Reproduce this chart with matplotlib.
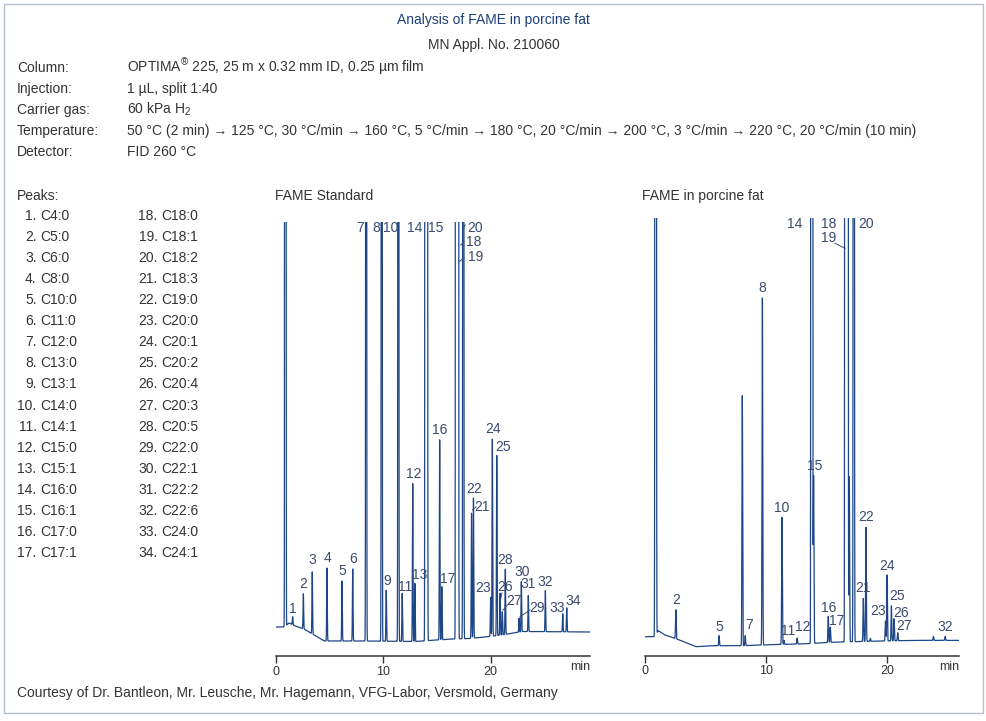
import numpy as np
import matplotlib
matplotlib.use("Agg")
import matplotlib.pyplot as plt
from matplotlib.patches import Rectangle

plt.rcParams['font.family'] = ['Liberation Sans', 'DejaVu Sans']

# ---------------- data ----------------
peak_names = ["C4:0", "C5:0", "C6:0", "C8:0", "C10:0", "C11:0", "C12:0", "C13:0",
              "C13:1", "C14:0", "C14:1", "C15:0", "C15:1", "C16:0", "C16:1", "C17:0",
              "C17:1", "C18:0", "C18:1", "C18:2", "C18:3", "C19:0", "C20:0", "C20:1",
              "C20:2", "C20:4", "C20:3", "C20:5", "C22:0", "C22:1", "C22:2", "C22:6",
              "C24:0", "C24:1"]

# FAME standard: retention time (min), peak height above baseline, peak number (0 = solvent)
std_ids = [0, 1, 2, 3, 4, 5, 6, 7, 8, 9, 10, 11, 12, 13, 14, 15, 16, 17,
           18, 19, 20, 21, 22, 23, 24, 25, 26, 27, 28, 29, 30, 31, 32, 33, 34]
std_times = [0.87, 1.55, 2.55, 3.38, 4.75, 6.15, 7.15, 8.40, 9.85, 10.27, 11.40, 11.76,
             12.74, 12.94, 13.95, 14.08, 15.25, 15.45, 16.80, 16.95, 17.45, 18.22, 18.40,
             20.00, 20.16, 20.57, 20.88, 21.09, 21.37, 22.65, 22.86, 23.51, 25.10, 26.72, 27.09]
std_heights = [20000, 8, 35, 62, 73, 60, 72, 3000, 3000, 51, 3000, 48,
               158, 58, 100000, 3000, 200, 53, 100000, 30000, 5000, 125, 140,
               39, 197, 180, 42, 23, 65, 14, 50, 36, 41, 18, 24]
std_base_t = [0, 0.8, 1.2, 1.8, 2.6, 4.5, 8, 13, 15, 16.5, 18, 19.5, 21, 23, 29.3]
std_base_s = [29, 29, 33, 30, 27, 15, 15, 14.5, 16, 17, 17.5, 19, 21, 24.5, 24]

# FAME in porcine fat (None = unlabelled peak)
fat_ids = [0, 2, 5, None, 7, 8, 10, 11, 12, 14, 15, 16, 17, 18, 19, None, 20,
           21, 22, None, 23, 24, 25, 26, 27, None, 32]
fat_times = [0.88, 2.55, 6.12, 8.04, 8.28, 9.70, 11.32, 11.49, 12.57, 13.78, 13.93,
             15.14, 15.31, 16.58, 16.72, 16.88, 17.25, 18.04, 18.26, 18.62, 19.87,
             20.00, 20.36, 20.58, 20.88, 23.83, 24.80]
fat_heights = [20000, 29, 10, 250, 10, 347, 127, 4, 6, 100000, 168, 26, 15, 100000,
               30000, 165, 5000, 43, 114, 3, 20, 66, 35, 22, 8, 4, 4]
fat_base_t = [0, 0.8, 1.1, 1.6, 2.3, 3.0, 4.2, 5.5, 8.0, 10.5, 13.5, 15.5, 19, 22, 26]
fat_base_s = [19, 19, 25, 21, 18, 15, 9, 10, 10, 11, 12, 13.5, 14.5, 15.3, 15.3]

# peak number labels: (id, time, signal) in data units of each panel
std_labels = [(1, 1.61, 47), (2, 2.54, 72), (3, 3.38, 96), (4, 4.78, 97.7), (5, 6.15, 85),
              (6, 7.15, 96.7), (7, 7.83, 427.7), (8, 9.32, 427.7), (9, 10.37, 75.3),
              (10, 10.65, 427.7), (11, 12.02, 69.3), (12, 12.80, 182), (13, 13.42, 80.7),
              (14, 12.89, 427.7), (15, 14.88, 427.7), (16, 15.28, 226), (17, 15.96, 76.7),
              (18, 18.45, 413.7), (19, 18.61, 399.3), (20, 18.52, 428), (21, 19.20, 148.7),
              (22, 18.45, 166.7), (23, 19.32, 67.7), (24, 20.20, 226.7), (25, 21.13, 209.3),
              (26, 21.30, 69.3), (27, 22.21, 55), (28, 21.37, 96), (29, 24.30, 48.3),
              (30, 22.90, 84.3), (31, 23.51, 72), (32, 25.10, 74.3), (33, 26.22, 47.7),
              (34, 27.65, 55)]
std_leaders = [((17.21, 411), (17.52, 414.3)), ((17.08, 394.3), (17.52, 398.3)),
               ((17.46, 427.7), (17.64, 431)), ((18.29, 146), (18.64, 149)),
               ((21.18, 46), (21.56, 51)), ((22.74, 39.3), (23.67, 46)),
               ((20.92, 56), (21.06, 63))]
fat_labels = [(2, 2.56, 55.7), (5, 6.12, 29), (7, 8.60, 30.7), (8, 9.69, 367.4),
              (10, 11.32, 147.4), (11, 11.84, 25), (12, 13.03, 29), (14, 12.40, 431.7),
              (15, 14.05, 189.7), (16, 15.15, 47.4), (17, 15.84, 34.7), (18, 15.21, 431.7),
              (19, 15.21, 417.4), (20, 18.26, 431.7), (21, 17.99, 67.4), (22, 18.26, 138.4),
              (23, 19.28, 45), (24, 19.98, 90), (25, 20.80, 60), (26, 21.16, 42.4),
              (27, 21.40, 29.7), (32, 24.79, 29)]
fat_leaders = [((15.70, 412.4), (16.53, 407.4))]

header_keys = ["Column:", "Injection:", "Carrier gas:", "Temperature:", "Detector:"]
header_vals = ["OPTIMA$^{\\circledR}$ 225, 25 m x 0.32 mm ID, 0.25 \u00b5m film",
               "1 \u00b5L, split 1:40",
               "60 kPa H$_2$",
               "50 \u00b0C (2 min) \u2192 125 \u00b0C, 30 \u00b0C/min \u2192 160 \u00b0C, 5 \u00b0C/min \u2192 180 \u00b0C, "
               "20 \u00b0C/min \u2192 200 \u00b0C, 3 \u00b0C/min \u2192 220 \u00b0C, 20 \u00b0C/min (10 min)",
               "FID 260 \u00b0C"]

plt.rcParams['mathtext.fontset'] = 'custom'
plt.rcParams['mathtext.rm'] = 'Liberation Sans'
plt.rcParams['mathtext.it'] = 'Liberation Sans'
plt.rcParams['mathtext.sf'] = 'Liberation Sans'

TRACE = '#1d4587'
LBL = '#3b4a6e'
TXT = '#333333'
SIG = 0.028

fig = plt.figure(figsize=(9.86, 7.21), dpi=100)

# full-figure overlay for the text block, in pixel coordinates
bg = fig.add_axes([0, 0, 1, 1])
bg.set_xlim(0, 986)
bg.set_ylim(721, 0)
bg.axis('off')
bg.add_patch(Rectangle((4, 4), 979, 709, fill=False, ec='#b4bfcc', lw=1.0))

bg.text(493.5, 20, "Analysis of FAME in porcine fat", ha='center', va='center',
        fontsize=10, color='#1e3f7a')
bg.text(493.5, 45, "MN Appl. No. 210060", ha='center', va='center', fontsize=10, color=TXT)
# baseline-aligned so the super/subscript lines sit level with the others
for i, (k, v) in enumerate(zip(header_keys, header_vals)):
    y = [68, 89.5, 110, 131, 152.5][i] + 4
    bg.text(17, y, k, ha='left', va='baseline', fontsize=10, color=TXT)
    bg.text(127, y, v, ha='left', va='baseline', fontsize=10, color=TXT)

bg.text(17, 196, "Peaks:", ha='left', va='center', fontsize=10, color=TXT)
for i, name in enumerate(peak_names):
    col, row = divmod(i, 17)
    y = 216 + row * 21.06
    xn = [36.5, 157.5][col]
    bg.text(xn, y, "%d." % (i + 1), ha='right', va='center', fontsize=10, color=TXT)
    bg.text(xn + 4, y, name, ha='left', va='center', fontsize=10, color=TXT)

bg.text(275, 196, "FAME Standard", ha='left', va='center', fontsize=10, color=TXT)
bg.text(642, 196, "FAME in porcine fat", ha='left', va='center', fontsize=10, color=TXT)
bg.text(580, 667, "min", ha='center', va='center', fontsize=9, color=TXT)
bg.text(949, 667, "min", ha='center', va='center', fontsize=9, color=TXT)
bg.text(17, 693, "Courtesy of Dr. Bantleon, Mr. Leusche, Mr. Hagemann, VFG-Labor, Versmold, Germany",
        ha='left', va='center', fontsize=10, color=TXT)


def chromatogram(ax, times, heights, base_t, base_s, tmax, ymax):
    t = np.arange(0, tmax, 0.002)
    s = np.interp(t, base_t, base_s)
    for rt, h in zip(times, heights):
        s = s + h * np.exp(-0.5 * ((t - rt) / SIG) ** 2)
    ax.plot(t, s, color=TRACE, lw=0.9)
    ax.set_xlim(0, tmax)
    ax.set_ylim(0, ymax)
    for side in ['top', 'left', 'right']:
        ax.spines[side].set_visible(False)
    ax.spines['bottom'].set_color('#333333')
    ax.spines['bottom'].set_linewidth(1.1)
    ax.set_yticks([])
    ax.set_xticks([0, 10, 20])
    ax.tick_params(axis='x', direction='out', length=5, width=1, pad=2,
                   labelsize=9, colors='#333333')
    ax.patch.set_alpha(0)


ax1 = fig.add_axes([276 / 986, 65 / 721, 314 / 986, 434 / 721])
chromatogram(ax1, std_times, std_heights, std_base_t, std_base_s, 29.26, 434)
for pid, x, y in std_labels:
    ax1.text(x, y, str(pid), ha='center', va='center', fontsize=10, color=LBL, clip_on=False)
for (x1, y1), (x2, y2) in std_leaders:
    ax1.plot([x1, x2], [y1, y2], color=LBL, lw=0.7, clip_on=False)

ax2 = fig.add_axes([645 / 986, 65.3 / 721, 314.3 / 986, 437.4 / 721])
chromatogram(ax2, fat_times, fat_heights, fat_base_t, fat_base_s, 25.97, 437.4)
for pid, x, y in fat_labels:
    ax2.text(x, y, str(pid), ha='center', va='center', fontsize=10, color=LBL, clip_on=False)
for (x1, y1), (x2, y2) in fat_leaders:
    ax2.plot([x1, x2], [y1, y2], color=LBL, lw=0.7, clip_on=False)

fig.savefig("out.png", dpi=100)
